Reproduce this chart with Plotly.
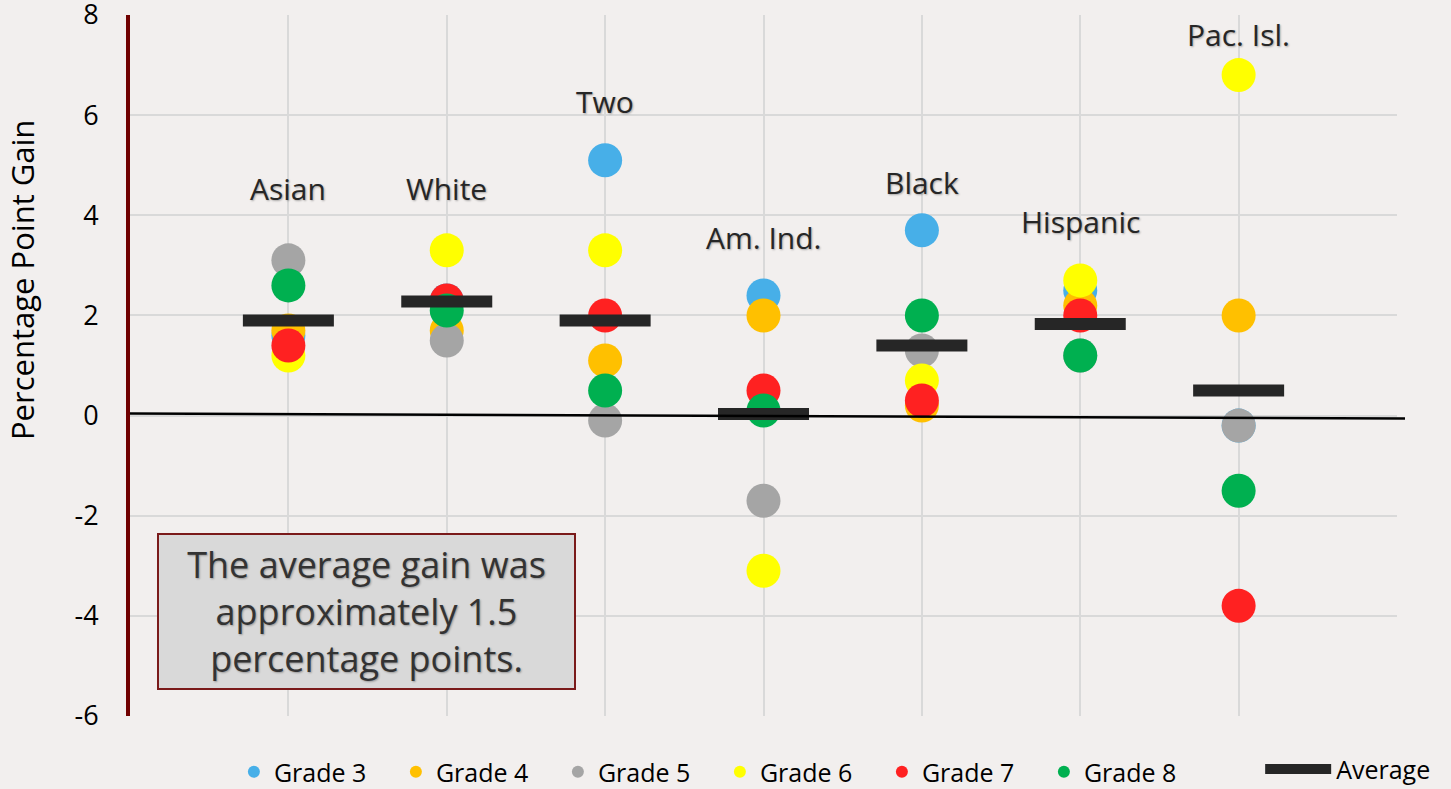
import plotly.graph_objects as go

groups = ["Asian", "White", "Two", "Am. Ind.", "Black", "Hispanic", "Pac. Isl."]
x_pos = [1, 2, 3, 4, 5, 6, 7]

grade3 = [1.6, 2.3, 5.1, 2.4, 3.7, 2.5, -0.2]
grade4 = [1.7, 1.7, 1.1, 2.0, 0.2, 2.2, 2.0]
grade5 = [3.1, 1.5, -0.1, -1.7, 1.3, 1.2, -0.2]
grade6 = [1.2, 3.3, 3.3, -3.1, 0.7, 2.7, 6.8]
grade7 = [1.4, 2.3, 2.0, 0.5, 0.3, 2.0, -3.8]
grade8 = [2.6, 2.1, 0.5, 0.1, 2.0, 1.2, -1.5]
average = [1.9, 2.28, 1.9, 0.03, 1.4, 1.83, 0.5]

label_y = [4.53, 4.53, 6.27, 3.55, 4.65, 3.87, 7.61]

series_names = ["Grade 3", "Grade 4", "Grade 5", "Grade 6", "Grade 7", "Grade 8"]
series_values = [grade3, grade4, grade5, grade6, grade7, grade8]
series_colors = ["#47AFE8", "#FFC000", "#A5A5A5", "#FFFF00", "#FF2121", "#00B050"]

y_ticks = [-6, -4, -2, 0, 2, 4, 6, 8]
y_tick_labels = ["-6", "-4", "-2", "0", "2", "4", "6", "8"]
y_title = "Percentage Point Gain"

BG = "#F2EFEE"
FONT = "Open Sans, Lato, DejaVu Sans, sans-serif"

fig = go.Figure()

for name, vals, col in zip(series_names, series_values, series_colors):
    fig.add_trace(go.Scatter(
        x=x_pos, y=vals, mode="markers", name=name,
        marker=dict(size=34, color=col, line=dict(width=0)),
        legend="legend",
    ))

# average bars
fig.add_trace(go.Scatter(
    x=x_pos, y=average, mode="markers", name="Average", showlegend=False,
    marker=dict(symbol="line-ew", size=65, color="#262626",
                line=dict(width=12, color="#262626")),
))
# legend entry for average
fig.add_trace(go.Scatter(
    x=[None], y=[None], mode="lines", name="Average",
    line=dict(color="#262626", width=11),
    legend="legend2",
))

annotations = []
for xv, yv, g in zip(x_pos, label_y, groups):
    annotations.append(dict(
        x=xv, y=yv, xref="x", yref="y", text=g, showarrow=False,
        font=dict(size=30, color="#262626", family=FONT,
                  shadow="1px 1px 2px rgba(0,0,0,0.3)"),
    ))

annotations.append(dict(
    x=1.493, y=-3.905, xref="x", yref="y",
    text="The average gain was<br>approximately 1.5<br>percentage points.",
    showarrow=False, align="center",
    font=dict(size=36, color="#333333", family=FONT,
              shadow="1px 1px 2px rgba(0,0,0,0.3)"),
    bgcolor="#D9D9D9", bordercolor="#7A1A1A", borderwidth=2, borderpad=0,
    width=415, height=153, valign="middle",
))

# y-axis title (placed as in the reference, above the axis centre)
annotations.append(dict(
    x=-0.0852, y=0.622, xref="paper", yref="paper", text=y_title,
    textangle=-90, showarrow=False, xanchor="center", yanchor="middle",
    font=dict(size=31, color="#000000", family=FONT),
))

fig.update_layout(
    width=1451, height=789,
    paper_bgcolor=BG, plot_bgcolor=BG,
    margin=dict(l=130, r=54, t=15, b=73, autoexpand=False),
    font=dict(family=FONT, color="#000000"),
    xaxis=dict(
        range=[0, 8], tickvals=[1, 2, 3, 4, 5, 6, 7, 8], showticklabels=False,
        showgrid=True, gridcolor="#D9D9D9", gridwidth=2, zeroline=False,
        showline=False, ticks="", automargin=False,
    ),
    yaxis=dict(
        range=[-6, 8], tickvals=y_ticks, ticktext=y_tick_labels,
        showgrid=True, gridcolor="#D9D9D9",
        gridwidth=2, zeroline=False, showline=True, linecolor="#700000",
        linewidth=4, ticks="", ticklabelstandoff=22, automargin=False,
        ticklabeloverflow="allow",
        tickfont=dict(size=27, color="#000000"),
    ),
    shapes=[dict(
        type="line", xref="paper", yref="y", x0=0, x1=1.0063, y0=0.04, y1=-0.06,
        line=dict(color="#000000", width=2.5), layer="above",
    )],
    annotations=annotations,
    legend=dict(
        orientation="h", x=0.082, y=-0.080, xanchor="left", yanchor="middle",
        font=dict(size=25, color="#000000"), bgcolor="rgba(0,0,0,0)",
        entrywidth=117, entrywidthmode="pixels", itemsizing="constant",
        itemwidth=30, tracegroupgap=0,
    ),
    legend2=dict(
        orientation="h", x=0.892, y=-0.076, xanchor="left", yanchor="middle",
        font=dict(size=25, color="#000000"), bgcolor="rgba(0,0,0,0)",
        itemwidth=66,
    ),
    showlegend=True,
)

fig.write_html(
    "out.html",
    config={"displayModeBar": False},
    post_script="document.body.style.margin='0';document.body.style.overflow='hidden';",
)
